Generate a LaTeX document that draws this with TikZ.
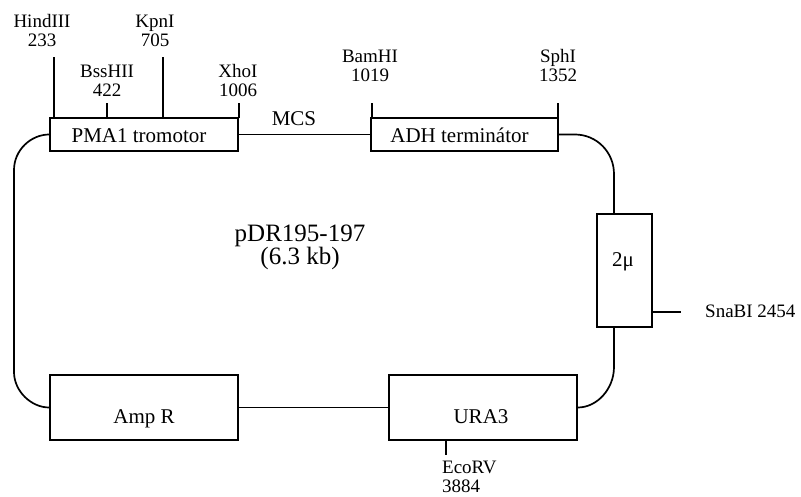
\documentclass[tikz,border=0pt]{standalone}
\usepackage{fontspec}
\setmainfont{Liberation Serif}
\begin{document}
\begin{tikzpicture}[x=1pt,y=-1pt,
  box/.style={draw, line width=1.7pt, inner sep=0pt},
  conn/.style={line width=1.7pt},
  lbl/.style={inner sep=0pt, font=\fontsize{19}{19.5}\selectfont},
  blbl/.style={inner sep=0pt, font=\fontsize{21}{21}\selectfont},
  big/.style={inner sep=0pt, font=\fontsize{25}{25}\selectfont}]
\useasboundingbox (0,0) rectangle (801,497);
% boxes
\node[box, minimum width=188pt, minimum height=33pt] (pma) at (144,134.5) {};
\node[box, minimum width=187pt, minimum height=33pt] (adh) at (464.5,134.5) {};
\node[box, minimum width=55pt, minimum height=113pt] (mu) at (624.5,270.5) {};
\node[box, minimum width=188pt, minimum height=65pt] (amp) at (144,407.5) {};
\node[box, minimum width=188pt, minimum height=65pt] (ura) at (483,407.5) {};
% box texts
\node[blbl, anchor=base] (pmat) at (139,143) {PMA1 tromotor};
\node[blbl, anchor=base] (adht) at (459.5,143) {ADH terminátor};
\node[blbl, anchor=base] (mut) at (623,267) {2μ};
\node[blbl, anchor=base] (ampt) at (144,423) {Amp R};
\node[blbl, anchor=base] (urat) at (481,423) {URA3};
\node[blbl, anchor=base] (mcs) at (294,126) {MCS};
\node[big, anchor=base] (p1) at (300,242) {pDR195-197};
\node[big, anchor=base] (p2) at (300,265) {(6.3 kb)};
% attachment coordinates
\coordinate (mutop) at ([xshift=-10.5pt]mu.north);
\coordinate (mubot) at ([xshift=-10.5pt]mu.south);
% backbone connectors
\draw[conn] (pma.east) -- (adh.west);
\draw[conn] (adh.east) -- (575,134.5) .. controls (596.5,134.5) and (614,152) .. (614,174) -- (mutop);
\draw[conn] (mubot) -- (614,367) .. controls (614,389) and (597,407.5) .. (ura.east);
\draw[conn] (ura.west) -- (amp.east);
\draw[conn] (amp.west) .. controls (31,407.5) and (14,391) .. (14,372) -- (14,170) .. controls (14,150) and (31,134.5) .. (pma.west);
% restriction sites
\coordinate (hindT) at (54,57);   \coordinate (hindB) at (54,118);
\coordinate (bssT) at (107,103);  \coordinate (bssB) at (107,118);
\coordinate (kpnT) at (163,57);   \coordinate (kpnB) at (163,118);
\coordinate (xhoT) at (239,103);  \coordinate (xhoB) at (239,118);
\coordinate (bamT) at (372,103);  \coordinate (bamB) at (372,118);
\coordinate (sphT) at (558,103);  \coordinate (sphB) at (558,118);
\coordinate (snaA) at (652,312);  \coordinate (snaB) at (681,312);
\coordinate (ecoA) at (446,440);  \coordinate (ecoB) at (446,455);
\draw[conn] (hindB) -- (hindT);
\draw[conn] (bssB) -- (bssT);
\draw[conn] (kpnB) -- (kpnT);
\draw[conn] (xhoB) -- (xhoT);
\draw[conn] (bamB) -- (bamT);
\draw[conn] (sphB) -- (sphT);
\draw[conn] (snaA) -- (snaB);
\draw[conn] (ecoA) -- (ecoB);
% site labels
\node[lbl, align=center, anchor=south] (hindL) at (42,47) {HindIII\\233};
\node[lbl, align=center, anchor=south] (kpnL) at (155,47) {KpnI\\705};
\node[lbl, align=center, anchor=south] (bssL) at (107,97) {BssHII\\422};
\node[lbl, align=center, anchor=south] (xhoL) at (238,97) {XhoI\\1006};
\node[lbl, align=center, anchor=south] (bamL) at (370,82) {BamHI\\1019};
\node[lbl, align=center, anchor=south] (sphL) at (558,82) {SphI\\1352};
\node[lbl, anchor=base west] (snaL) at (705,317) {SnaBI 2454};
\node[lbl, align=left, anchor=south west] (ecoL) at (442,493) {EcoRV\\3884};
\end{tikzpicture}
\end{document}
